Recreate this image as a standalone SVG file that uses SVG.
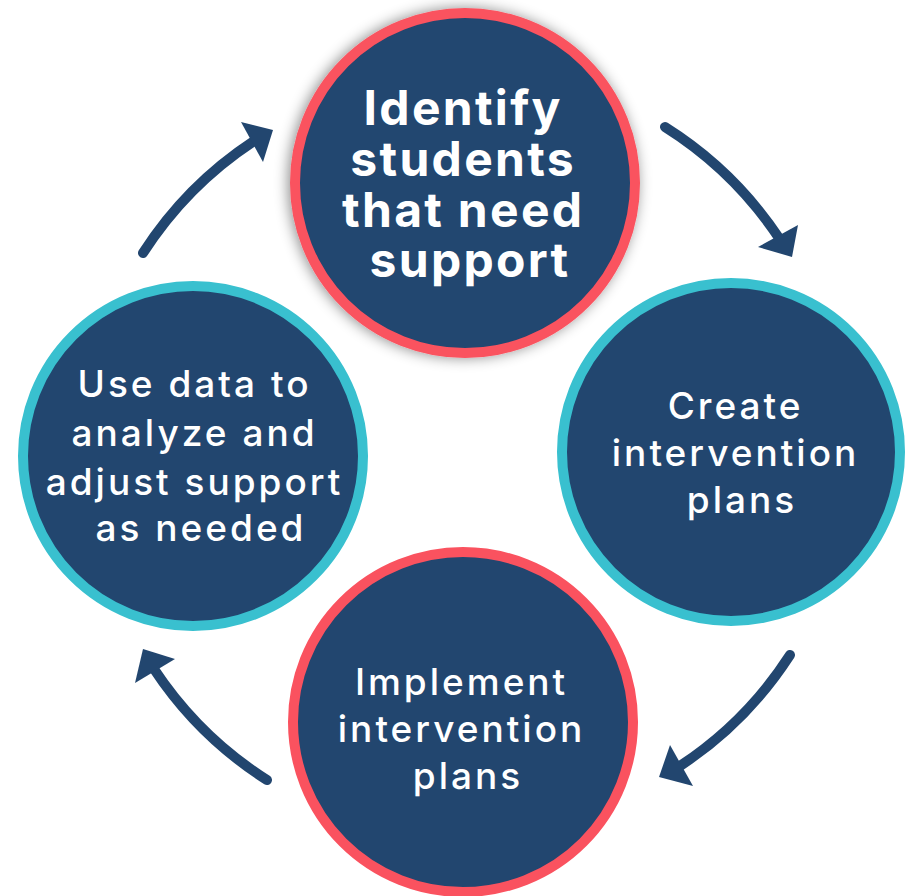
<svg xmlns="http://www.w3.org/2000/svg" width="913" height="896" viewBox="0 0 913 896">
  <style>
    .disc { fill: #22466F; stroke-width: 10; }
    .red { stroke: #FA525F; }
    .teal { stroke: #39C0CF; }
    .lbl { fill: #FFFFFF; font-family: Inter, "Open Sans", "Liberation Sans", sans-serif; text-anchor: middle; }
    .big { font-size: 48px; font-weight: 700; letter-spacing: 2.3px; }
    .mid { font-size: 37px; font-weight: 500; letter-spacing: 3px; }
    .arc { fill: none; stroke: #22466F; stroke-width: 10; stroke-linecap: round; }
    .head { fill: #22466F; }
  </style>
  <defs>
    <filter id="shadow" x="-20%" y="-20%" width="140%" height="140%">
      <feDropShadow dx="-2" dy="0" stdDeviation="7" flood-color="#000000" flood-opacity="0.45"/>
    </filter>
  </defs>

  <g id="connectors">
    <path class="arc" d="M143,253 A380,380 0 0 1 254,141"/>
    <polygon class="head" points="273,130 241,122 263,162"/>
    <path class="arc" d="M665,127 A380,380 0 0 1 779,238"/>
    <polygon class="head" points="792,257 758,247 798,225"/>
    <path class="arc" d="M790,655 A380,380 0 0 1 680,766"/>
    <polygon class="head" points="659,777 670,745 693,786"/>
    <path class="arc" d="M267,780 A380,380 0 0 1 154,669"/>
    <polygon class="head" points="143,649 135,683 175,659"/>
  </g>

  <g id="node-identify">
    <circle class="disc red" cx="465" cy="183" r="170" filter="url(#shadow)"/>
    <text class="lbl big">
      <tspan x="470" y="125">Identify</tspan>
      <tspan x="470" y="176">students</tspan>
      <tspan x="470" y="227">that need</tspan>
      <tspan x="470" y="277">support</tspan>
    </text>
  </g>

  <g id="node-create">
    <circle class="disc teal" cx="731" cy="452" r="169"/>
    <text class="lbl mid">
      <tspan x="742" y="419">Create</tspan>
      <tspan x="742" y="466">intervention</tspan>
      <tspan x="742" y="513">plans</tspan>
    </text>
  </g>

  <g id="node-implement">
    <circle class="disc red" cx="463" cy="722" r="170"/>
    <text class="lbl mid">
      <tspan x="468" y="695">Implement</tspan>
      <tspan x="468" y="742">intervention</tspan>
      <tspan x="468" y="789">plans</tspan>
    </text>
  </g>

  <g id="node-analyze">
    <circle class="disc teal" cx="193" cy="456" r="170"/>
    <text class="lbl mid">
      <tspan x="201" y="397">Use data to</tspan>
      <tspan x="201" y="446">analyze and</tspan>
      <tspan x="201" y="495">adjust support</tspan>
      <tspan x="201" y="541">as needed</tspan>
    </text>
  </g>
</svg>
